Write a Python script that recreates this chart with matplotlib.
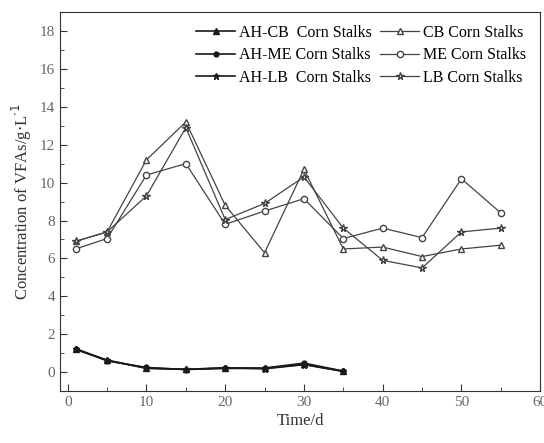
import matplotlib.pyplot as plt
from matplotlib.ticker import MultipleLocator

plt.rcParams['font.family'] = ['Liberation Serif', 'DejaVu Serif']

# sampling days
days = [1, 5, 10, 15, 20, 25, 30, 35, 40, 45, 50, 55]
days_ah = [1, 5, 10, 15, 20, 25, 30, 35]

# VFAs concentration (g/L)
ah_cb = [1.20, 0.62, 0.22, 0.15, 0.20, 0.20, 0.42, 0.05]
ah_me = [1.25, 0.60, 0.25, 0.14, 0.22, 0.22, 0.48, 0.06]
ah_lb = [1.22, 0.64, 0.20, 0.15, 0.24, 0.18, 0.40, 0.04]
cb = [6.9, 7.4, 11.2, 13.2, 8.8, 6.3, 10.7, 6.5, 6.6, 6.1, 6.5, 6.7]
me = [6.5, 7.05, 10.4, 11.0, 7.8, 8.5, 9.15, 7.05, 7.6, 7.1, 10.2, 8.4]
lb = [6.9, 7.4, 9.3, 12.9, 8.05, 8.9, 10.3, 7.6, 5.9, 5.5, 7.4, 7.6]

fig = plt.figure(figsize=(5.44, 4.43), dpi=100)
ax = fig.add_axes([0.110, 0.117, 0.883, 0.856])

dark = '#1a1a1a'
gray = '#444444'
# AH series first so the legend columns read AH | untreated
ax.plot(days_ah, ah_cb, color=dark, lw=1.2, marker='^', ms=4, mfc=dark, mec=dark, label='AH-CB  Corn Stalks')
ax.plot(days_ah, ah_me, color=dark, lw=1.2, marker='o', ms=3.5, mfc=dark, mec=dark, label='AH-ME Corn Stalks')
ax.plot(days_ah, ah_lb, color=dark, lw=1.2, marker='*', ms=5, mfc=dark, mec=dark, label='AH-LB  Corn Stalks')
ax.plot(days, cb, color=gray, lw=0.9, marker='^', ms=4.5, mfc='white', mec=gray, label='CB Corn Stalks')
ax.plot(days, me, color=gray, lw=0.9, marker='o', ms=4.5, mfc='white', mec=gray, label='ME Corn Stalks')
ax.plot(days, lb, color=gray, lw=0.9, marker='*', ms=5.5, mfc='white', mec=gray, label='LB Corn Stalks')

ax.set_xlim(-1, 60)
ax.set_ylim(-1, 19)
ax.xaxis.set_major_locator(MultipleLocator(10))
ax.xaxis.set_minor_locator(MultipleLocator(5))
ax.yaxis.set_major_locator(MultipleLocator(2))
ax.yaxis.set_minor_locator(MultipleLocator(1))
ax.tick_params(which='both', direction='in', top=False, right=False,
               labelsize=11, labelcolor='#666666', color='#333333')
ax.tick_params(which='major', length=5)
ax.tick_params(which='minor', length=3)
for s in ax.spines.values():
    s.set_color('#333333')

ax.set_xlabel('Time/d', fontsize=12, color='#333333', labelpad=3)
ax.set_ylabel('Concentration of VFAs/g$\\cdot$L$^{\\cdot1}$', fontsize=12, color='#333333', labelpad=4)

ax.legend(ncol=2, loc='upper right', frameon=False, fontsize=11.5,
          handlelength=2.4, handletextpad=0.3, columnspacing=0.5,
          labelspacing=0.4, borderaxespad=0.3, bbox_to_anchor=(0.995, 0.995))

fig.savefig('out.png', dpi=100)
